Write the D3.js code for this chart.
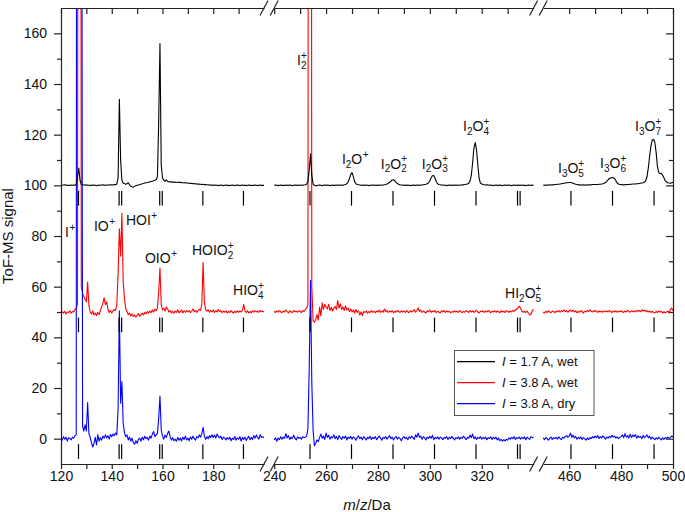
<!DOCTYPE html>
<html><head><meta charset="utf-8">
<script src="https://cdn.jsdelivr.net/npm/d3@7"></script>
<style>html,body{margin:0;padding:0;background:#fff}svg{display:block}</style>
</head><body>
<svg id="chart" width="685" height="512"></svg>
<script>
// ---------------- DATA ----------------
// m/z sampling grid step (Da) and segment limits of the broken x axis
const mzStep = 0.5;
const segStarts = [120, 240, 450];
const segEnds = [200, 340, 500];

// I = 1.7 A, wet (black, offset +100)
const blackS1 = [
100.1,100.0,100.1,100.2,100.0,100.1,99.9,100.0,100.1,100.0,
100.1,100.0,100.3,103.5,106.8,102.0,100.4,100.2,100.1,100.2,
100.0,100.1,100.0,99.9,100.1,100.0,100.1,100.0,99.9,100.0,
100.1,100.0,100.1,100.2,100.0,100.1,100.0,100.1,100.2,100.1,
100.2,100.1,100.3,100.2,100.5,103.0,134.0,110.0,102.0,100.8,
100.8,100.4,100.6,101.0,100.2,99.6,99.4,99.3,99.6,99.8,
100.0,100.1,100.3,100.4,100.6,100.7,100.9,101.0,101.1,101.2,
101.4,101.5,101.6,101.8,102.0,102.2,103.5,125.0,156.0,108.0,
103.0,102.0,101.6,102.2,101.5,101.3,101.5,101.2,101.4,101.1,
101.3,101.2,101.1,101.3,101.0,101.2,101.0,100.9,101.1,100.9,
100.8,100.9,100.7,100.8,100.6,100.7,100.5,100.6,100.4,100.5,
100.4,100.3,100.4,100.2,100.3,100.2,100.1,100.2,100.0,100.1,
100.1,100.0,100.1,100.0,99.9,100.0,100.1,100.0,99.9,100.0,
100.1,100.0,100.0,99.9,100.0,100.1,100.0,99.9,100.0,100.1,
100.0,99.9,100.0,100.1,100.0,100.0,99.9,100.0,100.1,100.0,
99.9,100.0,100.0,100.1,100.0,99.9,100.0,100.1,100.0,100.0,
100.0];
const blackS2 = [
100.0,100.1,100.0,99.9,100.0,100.1,100.0,100.0,99.9,100.1,
100.0,100.0,100.1,100.0,99.9,100.0,100.1,100.0,100.0,100.1,
100.0,100.1,100.0,100.1,100.2,100.4,101.5,106.0,112.4,104.0,
100.5,100.0,99.8,99.9,100.0,100.1,100.0,99.9,100.0,100.1,
100.0,100.1,100.0,99.9,100.0,100.1,100.0,100.0,100.1,100.0,
100.1,100.0,100.1,100.0,100.2,100.3,100.6,101.3,102.6,104.3,
105.0,103.5,101.5,100.6,100.3,100.2,100.1,100.0,100.1,100.0,
100.0,100.1,100.0,99.9,100.0,100.1,100.0,100.1,100.0,100.0,
100.1,100.0,100.1,100.0,100.1,100.2,100.3,100.5,100.8,101.2,
101.7,102.1,102.2,101.8,101.2,100.7,100.4,100.2,100.1,100.0,
100.1,100.0,100.0,100.1,100.0,99.9,100.0,100.1,100.0,100.0,
100.1,100.0,100.1,100.0,100.1,100.2,100.3,100.4,100.6,101.0,
101.8,103.0,103.8,103.9,102.8,101.4,100.6,100.3,100.2,100.1,
100.0,100.1,100.0,99.9,100.0,100.1,100.0,100.0,100.1,100.0,
100.1,100.0,100.1,100.0,100.1,100.2,100.2,100.3,100.4,100.5,
100.8,101.8,104.0,109.0,114.8,116.9,114.0,108.0,102.8,100.9,
100.5,100.3,100.2,100.1,100.2,100.1,100.0,100.1,100.0,99.9,
100.0,100.1,100.0,100.0,100.1,100.0,99.9,100.0,100.1,100.0,
100.0,100.1,100.0,99.9,100.0,100.1,100.0,100.0,100.1,100.0,
100.0,100.1,100.0,100.0,99.9,100.0,100.1,100.0,100.0,100.1,
100.0];
const blackS3 = [
100.0,100.1,100.0,100.1,100.1,100.2,100.1,100.2,100.2,100.3,
100.3,100.4,100.4,100.5,100.6,100.7,100.8,100.9,101.0,101.0,
101.1,101.1,101.0,100.8,100.6,100.4,100.3,100.2,100.2,100.1,
100.1,100.2,100.1,100.1,100.2,100.1,100.2,100.2,100.3,100.3,
100.3,100.3,100.3,100.4,100.4,100.5,100.6,100.8,101.1,101.6,
102.2,102.7,102.9,103.1,103.0,102.7,101.8,100.9,100.5,100.3,
100.3,100.2,100.2,100.3,100.2,100.3,100.3,100.4,100.4,100.5,
100.5,100.5,100.6,100.6,100.7,100.8,100.9,101.0,101.3,101.8,
103.5,107.0,111.5,115.5,117.8,118.2,117.0,113.0,107.5,105.0,
104.6,104.8,104.0,103.0,101.8,101.3,101.0,100.9,100.8,101.0,
101.2];

// I = 3.8 A, wet (red, offset +50)
const redS1 = [
49.4,50.1,49.6,50.3,49.2,50.0,49.8,50.5,49.5,50.2,
50.0,51.0,51.5,53.0,600,600,60.0,57.5,56.0,55.0,
54.0,61.8,52.5,50.0,49.2,50.4,48.8,49.6,48.6,49.8,
49.0,50.5,52.0,53.5,55.6,53.0,54.0,51.2,49.8,50.6,
49.6,50.4,51.0,50.6,53.0,65.0,82.8,72.0,89.0,62.0,
55.5,51.5,50.2,49.0,49.6,48.4,49.2,48.2,48.8,48.0,
48.6,49.4,48.3,49.0,49.6,48.8,49.8,49.3,50.2,49.5,
50.4,49.7,50.8,50.0,51.2,50.5,51.5,58.0,67.4,53.0,
50.8,51.5,50.4,52.0,51.2,50.0,50.6,49.6,50.3,49.5,
50.4,49.8,50.9,49.7,50.2,50.8,49.6,50.5,49.9,50.7,
50.0,50.6,49.7,50.3,51.2,50.1,50.7,49.8,50.5,51.0,
50.6,53.5,69.6,54.0,51.0,50.3,50.9,49.9,50.6,50.1,
50.8,49.8,50.5,50.0,51.0,50.2,50.6,49.7,50.4,49.9,
50.5,49.6,50.3,49.8,50.6,50.0,49.5,50.3,49.8,50.5,
49.9,50.4,50.0,50.6,53.0,50.4,49.8,50.5,49.6,50.2,
49.7,50.5,49.9,50.6,50.0,50.4,49.8,50.7,50.1,50.3,
50.0];
const redS2 = [
50.3,49.8,50.5,49.9,50.6,50.1,49.7,50.4,50.0,50.8,
50.2,49.6,50.5,50.0,49.8,50.6,50.1,50.3,49.9,50.5,
50.2,49.8,50.6,50.2,51.0,51.5,53.0,700,700,60.0,
46.5,46.0,47.0,49.0,46.8,52.0,48.5,53.6,51.0,53.0,
52.0,51.2,53.0,50.6,51.8,50.4,51.5,52.2,51.0,54.5,
51.5,53.2,51.0,52.0,50.6,52.4,50.8,51.5,50.2,51.2,
50.0,50.8,49.6,51.0,49.8,50.5,48.8,50.0,48.6,50.2,
49.8,50.4,49.5,50.2,49.8,50.6,49.9,50.3,49.7,50.4,
50.0,50.8,49.8,50.5,49.9,51.2,50.1,50.6,49.8,50.4,
50.0,50.5,49.7,50.3,49.9,50.6,50.2,49.8,50.5,50.0,
50.4,49.8,50.6,50.1,49.7,50.5,50.0,50.3,51.0,49.9,
50.6,51.6,50.2,50.8,49.8,50.4,50.0,49.6,50.5,50.1,
50.7,49.9,50.4,50.0,50.6,49.7,50.3,50.0,49.6,50.5,
50.1,50.6,49.8,50.4,50.0,50.3,49.6,50.2,49.9,50.5,
50.0,50.4,49.8,50.6,50.1,49.7,50.3,49.9,50.5,50.2,
49.8,50.6,50.0,50.4,49.9,50.2,50.7,50.0,49.6,50.3,
50.1,50.5,49.8,50.4,50.0,50.6,50.2,49.7,50.3,50.0,
50.5,49.9,50.4,50.1,49.7,50.5,50.0,50.3,49.8,50.6,
50.2,49.9,50.4,50.0,50.6,50.3,50.8,51.2,51.6,52.3,
51.5,50.4,49.9,50.2,49.8,50.4,49.5,48.8,49.2,50.5,
51.0];
const redS3 = [
50.0,49.6,50.3,49.8,50.5,50.0,49.7,50.4,50.1,49.8,
50.3,50.0,50.6,49.9,50.5,50.2,50.8,50.1,50.6,49.9,
50.4,50.8,50.2,50.7,50.0,50.5,49.7,50.2,49.9,50.6,
50.1,49.6,50.3,50.0,50.6,50.2,50.8,50.3,50.0,50.6,
50.2,50.5,49.8,50.4,50.0,50.3,49.9,50.5,50.1,50.4,
50.0,50.6,50.2,49.8,50.4,50.0,50.5,49.9,50.3,50.1,
50.5,50.1,49.8,50.4,50.0,50.6,50.2,49.9,50.5,50.1,
50.4,50.0,50.7,50.3,50.6,50.1,50.9,50.4,50.7,50.2,
50.5,50.0,50.4,49.8,50.3,49.9,49.6,50.2,49.8,50.4,
50.0,50.3,49.6,50.1,49.7,50.0,50.4,49.6,51.0,51.5,
50.5];

// I = 3.8 A, dry (blue, offset 0)
const blueS1 = [
0.3,-0.6,0.8,-0.2,0.5,-0.9,0.4,0.1,-0.5,0.6,
0.2,1.2,1.5,800,800,800,400,5.0,3.0,5.5,
3.0,14.3,2.0,0.5,-1.5,-3.3,-1.8,0.5,-2.5,1.6,
-1.0,0.4,-0.6,1.0,0.2,1.5,0.3,1.2,-0.2,1.6,
0.8,1.8,1.2,2.2,1.5,12.0,50.5,14.0,22.5,6.0,
2.5,0.8,1.5,-0.5,0.6,-1.0,0.2,-1.6,-2.2,-0.8,
-1.8,-0.3,0.2,-1.0,0.6,-0.4,0.9,0.0,0.5,-0.6,
1.0,0.2,1.8,2.8,0.8,1.5,2.0,8.0,16.8,3.5,
1.0,-0.2,1.4,0.5,2.0,3.0,0.8,-0.5,0.4,-0.8,
-0.2,-1.0,0.5,-0.6,0.3,-0.9,0.6,-0.3,1.0,-0.5,
0.2,-0.8,0.7,-0.2,1.0,0.1,-0.6,0.8,0.3,1.5,
0.6,2.0,4.5,1.0,-0.3,0.8,0.0,1.2,0.4,1.6,
0.5,1.4,0.2,1.8,0.9,0.3,1.0,-0.4,0.6,0.2,
-0.5,0.4,-0.2,0.6,-0.8,0.2,-0.4,0.9,-0.6,0.3,
-0.2,0.8,-1.0,0.5,-0.3,0.6,-0.7,0.2,0.9,-0.4,
0.5,-0.3,1.2,0.2,1.5,0.4,-0.2,1.6,0.5,0.8,
0.3];
const blueS2 = [
-0.5,0.4,-1.0,0.2,-0.4,0.8,-0.2,0.6,0.1,2.0,
0.3,1.2,-0.3,0.6,0.0,1.4,0.2,-0.5,0.7,0.1,
0.5,-0.2,0.8,0.4,0.6,1.0,4.0,28.0,62.5,22.0,
3.0,-2.8,-1.8,-0.5,-1.2,0.5,1.8,0.2,1.0,-0.3,
2.2,0.5,1.4,-0.2,0.8,0.3,1.5,0.0,0.9,-0.4,
1.2,0.4,-0.3,0.8,0.2,1.0,-0.5,0.6,0.1,0.9,
-0.2,0.7,0.3,-0.6,0.5,1.1,0.0,0.6,-0.4,0.8,
0.2,-0.5,0.6,0.1,0.9,-0.3,0.5,0.0,0.8,-0.4,
0.4,1.0,0.2,-0.6,0.5,0.1,0.8,-0.2,0.6,1.2,
0.0,0.6,-0.5,0.4,0.9,-0.2,0.5,0.1,-0.8,0.3,
0.8,0.0,0.5,-0.4,0.7,0.2,1.0,0.4,-0.3,1.5,
0.6,2.2,0.5,1.0,-0.2,0.8,0.3,-0.5,0.6,0.1,
0.9,0.2,1.3,-0.4,0.5,0.0,0.7,-0.2,0.6,0.3,
-0.4,0.5,0.1,0.8,-0.3,0.6,0.0,0.9,0.2,-0.5,
0.4,0.0,0.7,-0.2,0.5,0.1,1.0,0.3,-0.4,0.6,
0.2,1.4,0.4,1.8,0.0,0.7,-0.3,0.5,0.1,0.8,
-0.2,0.5,0.0,0.6,-0.4,0.4,0.1,0.7,-0.3,0.5,
0.0,0.6,-0.5,0.3,-0.8,-0.3,-1.0,-0.4,-0.9,-0.2,
-0.6,0.3,-0.2,0.5,0.0,0.8,-0.3,0.4,0.1,0.6,
-0.2,0.5,0.0,0.7,-0.4,0.6,0.1,-0.3,0.8,0.4,
0.6];
const blueS3 = [
0.3,-0.4,0.5,0.0,-0.6,0.2,0.6,-0.3,0.4,0.0,
0.5,-0.2,0.7,0.1,-0.4,0.6,0.2,0.8,1.2,0.5,
1.0,2.2,0.6,1.4,0.3,0.9,-0.2,0.5,0.0,0.7,
-0.3,0.4,0.0,-0.6,0.3,-0.4,0.5,0.0,0.8,0.3,
1.0,0.4,1.2,0.1,0.8,0.3,1.1,0.5,-0.2,0.6,
0.2,0.9,0.4,1.3,0.6,1.0,0.2,0.7,0.0,0.5,
0.8,1.5,0.4,2.0,0.6,1.2,0.3,1.8,0.5,1.4,
0.8,1.6,0.2,1.1,0.5,0.9,0.0,1.3,0.4,0.8,
1.5,0.3,1.0,-0.2,0.6,0.1,-0.4,0.3,-0.2,0.5,
0.0,-0.5,0.3,-0.3,0.4,0.0,0.6,0.2,0.5,1.0,
0.8];

const seriesLabels = ["1.7 A, wet", "3.8 A, wet", "3.8 A, dry"];
const seriesColors = ["#000000", "#ff0000", "#0000ff"];

// assignment marks (m/z) per axis segment and trace baselines
const markMz = [
  [126.9, 142.9, 143.9, 158.9, 159.9, 175.9, 191.9],
  [253.8, 269.8, 285.8, 301.8, 317.8, 333.8, 334.8],
  [460.7, 476.7, 492.7]
];
const markBase = [100, 50, 0];

// ticks
const yMajor = [0, 20, 40, 60, 80, 100, 120, 140, 160];
const yMinor = [-10, 10, 30, 50, 70, 90, 110, 130, 150];
const xMajor = [[120, 140, 160, 180], [240, 260, 280, 300, 320], [460, 480, 500]];
const xMinor = [[130, 150, 170, 190], [250, 270, 290, 310, 330], [470, 490]];

// peak labels: text, axis segment, m/z of left edge, baseline signal
const annText = ["I^+", "IO^+", "HOI^+", "OIO^+", "HOIO_2^+", "HIO_4^+",
  "I_2^+", "I_2O^+", "I_2O_2^+", "I_2O_3^+", "I_2O_4^+", "HI_2O_5^+",
  "I_3O_5^+", "I_3O_6^+", "I_3O_7^+"];
const annSeg = [0, 0, 0, 0, 0, 0, 1, 1, 1, 1, 1, 1, 2, 2, 2];
const annMz = [121.6, 133.0, 145.6, 153.1, 171.6, 187.8,
  248.8, 266.1, 281.1, 296.9, 312.8, 329.0, 455.7, 471.9, 485.4];
const annVal = [79.6, 81.8, 84.3, 69.3, 72.5, 56.7,
  147.5, 108.4, 106.6, 106.6, 121.4, 55.4, 104.8, 106.7, 121.4];

// ---------------- LAYOUT ----------------
const FONT = "'Liberation Sans', Arial, Helvetica, sans-serif";
const plot = {left: 61, right: 673, top: 8, bottom: 464};
const segRanges = [[61, 264], [274.2, 533.6], [543.2, 673]];

const svg = d3.select("#chart").style("font-family", FONT);

const y = d3.scaleLinear().domain([-10, 170]).range([plot.bottom, plot.top]);
const xs = segStarts.map((s, i) => d3.scaleLinear().domain([s, segEnds[i]]).range(segRanges[i]));

const allSeries = [[blackS1, blackS2, blackS3], [redS1, redS2, redS3], [blueS1, blueS2, blueS3]];
allSeries.forEach((ser, si) => ser.forEach((arr, k) => {
  const n = Math.round((segEnds[k] - segStarts[k]) / mzStep) + 1;
  if (arr.length !== n) throw new Error("series " + si + " seg " + k + " length " + arr.length + " != " + n);
}));

svg.append("defs").append("clipPath").attr("id", "clip")
  .append("rect").attr("x", plot.left).attr("y", plot.top)
  .attr("width", plot.right - plot.left).attr("height", plot.bottom - plot.top);

const gData = svg.append("g").attr("clip-path", "url(#clip)");
const drawOrder = [1, 2, 0]; // red, blue, black on top
drawOrder.forEach(si => {
  allSeries[si].forEach((arr, k) => {
    const pts = arr.map((v, i) => [segStarts[k] + i * mzStep, v]);
    const line = d3.line().x(d => xs[k](d[0])).y(d => y(d[1]));
    gData.append("path").datum(pts).attr("d", line)
      .attr("fill", "none").attr("stroke", seriesColors[si])
      .attr("stroke-width", 1.1).attr("stroke-linejoin", "round");
  });
});

// assignment marks
const gMarks = svg.append("g");
markMz.forEach((list, k) => list.forEach(mz => markBase.forEach(b => {
  gMarks.append("line")
    .attr("x1", xs[k](mz)).attr("x2", xs[k](mz))
    .attr("y1", y(b - 2.2)).attr("y2", y(b - 8))
    .attr("stroke", "#000").attr("stroke-width", 1.2);
})));

// peak labels
function drawLabel(g, str, x0, y0) {
  let x = x0, i = 0;
  const mk = (xx, yy, fs, t) => g.append("text").attr("x", xx).attr("y", yy)
    .attr("font-size", fs).attr("fill", "#111").text(t);
  while (i < str.length) {
    const c = str[i];
    if (c === "_") {
      const sub = str[i + 1]; let sup = null; i += 2;
      if (str[i] === "^") { sup = str[i + 1]; i += 2; }
      const t1 = mk(x, y0 + 3.5, 10, sub);
      let w = t1.node().getComputedTextLength();
      if (sup) { const t2 = mk(x, y0 - 6.5, 10, sup); w = Math.max(w, t2.node().getComputedTextLength()); }
      x += w;
    } else if (c === "^") {
      const t = mk(x + 0.5, y0 - 6, 10, str[i + 1]); i += 2;
      x += t.node().getComputedTextLength() + 0.5;
    } else {
      let j = i; while (j < str.length && str[j] !== "_" && str[j] !== "^") j++;
      const t = mk(x, y0, 14, str.slice(i, j));
      x += t.node().getComputedTextLength(); i = j;
    }
  }
}
const gAnn = svg.append("g");
annText.forEach((t, i) => drawLabel(gAnn, t, xs[annSeg[i]](annMz[i]), y(annVal[i])));

// ---------------- AXES ----------------
function styleAxis(g) {
  g.selectAll(".domain").attr("stroke", "#222").attr("stroke-width", 1.2);
  g.selectAll(".tick line").attr("stroke", "#222").attr("stroke-width", 1.2);
  g.selectAll(".tick text").attr("font-size", 14).attr("font-family", FONT).attr("fill", "#111");
}
// left
const gl = svg.append("g").attr("transform", `translate(${plot.left},0)`)
  .call(d3.axisLeft(y).tickValues(yMajor).tickSize(7).tickSizeOuter(0).tickPadding(7));
styleAxis(gl);
const glm = svg.append("g").attr("transform", `translate(${plot.left},0)`)
  .call(d3.axisLeft(y).tickValues(yMinor.filter(v => v > -10)).tickSize(4).tickSizeOuter(0).tickFormat(""));
styleAxis(glm); glm.select(".domain").remove();
// right (inward ticks)
const gr = svg.append("g").attr("transform", `translate(${plot.right},0)`)
  .call(d3.axisRight(y).tickValues(yMajor).tickSize(-7).tickSizeOuter(0).tickFormat(""));
styleAxis(gr);
const grm = svg.append("g").attr("transform", `translate(${plot.right},0)`)
  .call(d3.axisRight(y).tickValues(yMinor.filter(v => v > -10)).tickSize(-4).tickSizeOuter(0).tickFormat(""));
styleAxis(grm); grm.select(".domain").remove();

// bottom & top, one per segment
xs.forEach((sc, k) => {
  const gb = svg.append("g").attr("transform", `translate(0,${plot.bottom})`)
    .call(d3.axisBottom(sc).tickValues(xMajor[k]).tickSize(5).tickSizeOuter(0).tickPadding(2).tickFormat(d3.format("d")));
  styleAxis(gb);
  const gbm = svg.append("g").attr("transform", `translate(0,${plot.bottom})`)
    .call(d3.axisBottom(sc).tickValues(xMinor[k]).tickSize(5).tickSizeOuter(0).tickFormat(""));
  styleAxis(gbm); gbm.select(".domain").remove();
  const gt = svg.append("g").attr("transform", `translate(0,${plot.top})`)
    .call(d3.axisTop(sc).tickValues(xMajor[k].concat(xMinor[k])).tickSize(-6).tickSizeOuter(0).tickFormat(""));
  styleAxis(gt);
});

// axis break marks
const gBreak = svg.append("g").attr("stroke", "#222").attr("stroke-width", 1.2);
[[segRanges[0][1], segRanges[1][0]], [segRanges[1][1], segRanges[2][0]]].forEach(pair => {
  pair.forEach(cx => [plot.top, plot.bottom].forEach(cy => {
    gBreak.append("line").attr("x1", cx - 4).attr("y1", cy + 7.5).attr("x2", cx + 4).attr("y2", cy - 7.5);
  }));
});

// axis titles
svg.append("text").attr("transform", `translate(13,${(plot.top + plot.bottom) / 2}) rotate(-90)`)
  .attr("text-anchor", "middle").attr("font-size", 15).attr("fill", "#111").text("ToF-MS signal");
const xt = svg.append("text").attr("x", (plot.left + plot.right) / 2).attr("y", 510)
  .attr("text-anchor", "middle").attr("font-size", 15).attr("fill", "#111");
xt.append("tspan").attr("font-style", "italic").text("m");
xt.append("tspan").text("/");
xt.append("tspan").attr("font-style", "italic").text("z");
xt.append("tspan").text("/Da");

// legend
const lg = svg.append("g");
lg.append("rect").attr("x", 454.5).attr("y", 350.5).attr("width", 139.5).attr("height", 65)
  .attr("fill", "#fff").attr("stroke", "#555").attr("stroke-width", 1);
seriesLabels.forEach((lab, i) => {
  const yy = 361.7 + i * 21;
  lg.append("line").attr("x1", 457).attr("x2", 495).attr("y1", yy).attr("y2", yy)
    .attr("stroke", seriesColors[i]).attr("stroke-width", 1.2);
  const t = lg.append("text").attr("x", 502).attr("y", yy + 4.6).attr("font-size", 13).attr("fill", "#111");
  t.append("tspan").attr("font-style", "italic").text("I");
  t.append("tspan").text(" = " + lab);
});
</script>
</body></html>
